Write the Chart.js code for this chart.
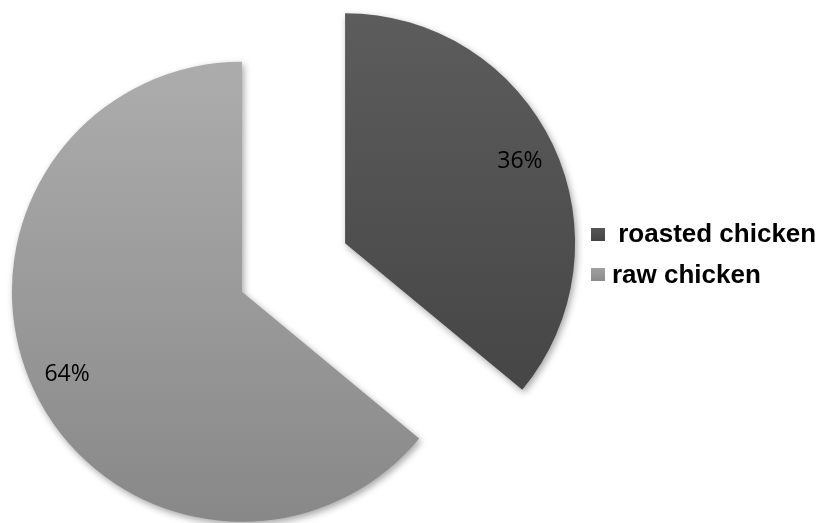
<!DOCTYPE html>
<html>
<head>
<meta charset="utf-8">
<script src="https://cdn.jsdelivr.net/npm/chart.js@4.4.1/dist/chart.umd.min.js"></script>
<style>
  html, body { margin: 0; padding: 0; background: #ffffff; }
  #wrap { position: relative; width: 823px; height: 523px; overflow: hidden; }
  canvas { position: absolute; left: 0; top: 0; }
  .leg { position: absolute; font-family: "Liberation Sans", Arial, sans-serif; font-weight: bold; font-size: 26px; color: #000; white-space: pre; line-height: 1; }
  .sw { position: absolute; width: 14px; height: 13px; }
</style>
</head>
<body>
<div id="wrap">
  <canvas id="c" width="823" height="523"></canvas>
  <div id="legend"></div>
</div>
<script>
const categories = ['roasted chicken', 'raw chicken'];
const values = [36, 64];
const legendLabels = [' roasted chicken', 'raw chicken'];

const gradStops = [
  ['#5e5e5e', '#474747', 10, 390],
  ['#ababab', '#868686', 60, 522]
];

const SHIFT = 57;    // explode distance in px
const RADIUS = 230;

function sliceColor(context) {
  const chart = context.chart;
  const i = context.dataIndex;
  const g = gradStops[i];
  if (!chart.chartArea) return g[0];
  const grad = chart.ctx.createLinearGradient(0, g[2], 0, g[3]);
  grad.addColorStop(0, g[0]);
  grad.addColorStop(1, g[1]);
  return grad;
}

// Draw each arc element translated outward along its mid-angle (exploded pie), with a soft shadow
const explodePlugin = {
  id: 'explode',
  beforeDatasetDraw(chart, args) {
    const c = chart.ctx;
    const meta = args.meta;
    c.save();
    c.shadowColor = 'rgba(0,0,0,0.35)';
    c.shadowBlur = 7;
    c.shadowOffsetX = 2;
    c.shadowOffsetY = 3;
    meta.data.forEach(arc => {
      const mid = (arc.startAngle + arc.endAngle) / 2;
      c.save();
      c.translate(Math.cos(mid) * SHIFT, Math.sin(mid) * SHIFT);
      arc.draw(c, chart.chartArea);
      c.restore();
    });
    c.restore();
    return false;
  }
};

const labelPlugin = {
  id: 'pctLabels',
  afterDatasetsDraw(chart) {
    const c = chart.ctx;
    const meta = chart.getDatasetMeta(0);
    const total = values.reduce((a, b) => a + b, 0);
    c.save();
    c.font = '23px "Open Sans", sans-serif';
    c.fillStyle = '#000000';
    c.textAlign = 'center';
    c.textBaseline = 'middle';
    meta.data.forEach((arc, i) => {
      const mid = (arc.startAngle + arc.endAngle) / 2;
      const d = SHIFT + arc.outerRadius * 0.84;
      c.fillText(Math.round(values[i] / total * 100) + '%',
        arc.x + Math.cos(mid) * d, arc.y + Math.sin(mid) * d);
    });
    c.restore();
  }
};

new Chart(document.getElementById('c'), {
  type: 'pie',
  data: {
    labels: categories,
    datasets: [{
      data: values,
      backgroundColor: sliceColor,
      borderWidth: 0,
      offset: 0,
      hoverOffset: 0
    }]
  },
  options: {
    responsive: false,
    animation: false,
    radius: RADIUS,
    layout: { padding: { left: 0, right: 236, top: 12, bottom: 0 } },
    plugins: {
      legend: { display: false },
      tooltip: { enabled: false }
    },
    events: []
  },
  plugins: [explodePlugin, labelPlugin]
});

// HTML legend
const legendPos = [
  { sx: 591, sy: 228, tx: 611, ty: 220 },
  { sx: 591, sy: 268, tx: 612, ty: 261 }
];
const legendColors = ['#555555', '#a0a0a0'];
const leg = document.getElementById('legend');
legendLabels.forEach((t, i) => {
  const sw = document.createElement('div');
  sw.className = 'sw';
  sw.style.left = legendPos[i].sx + 'px';
  sw.style.top = legendPos[i].sy + 'px';
  sw.style.background = 'linear-gradient(' + legendColors[i] + ',' + (i === 0 ? '#444444' : '#8c8c8c') + ')';
  leg.appendChild(sw);
  const tx = document.createElement('div');
  tx.className = 'leg';
  tx.style.left = legendPos[i].tx + 'px';
  tx.style.top = legendPos[i].ty + 'px';
  tx.textContent = t;
  leg.appendChild(tx);
});
</script>
</body>
</html>
